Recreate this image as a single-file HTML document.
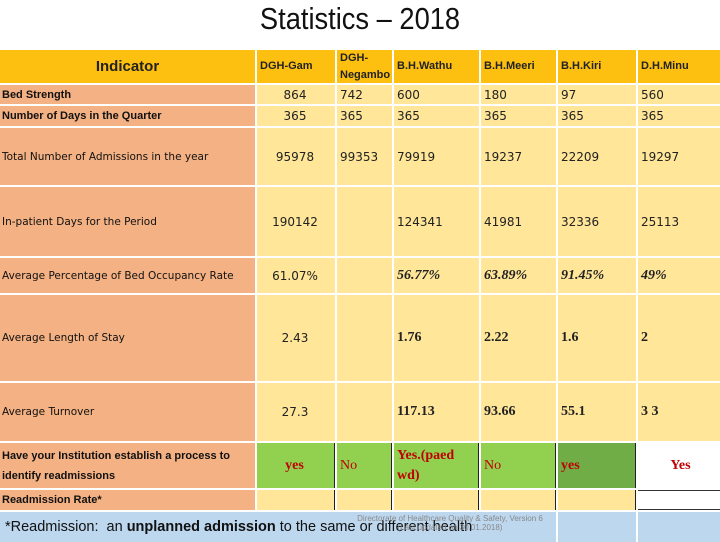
<!DOCTYPE html>
<html><head><meta charset="utf-8"><style>
body{margin:0;width:720px;height:540px;background:#fff;position:relative;overflow:hidden;font-family:"Liberation Sans",sans-serif}
.c{position:absolute;box-sizing:border-box;display:flex;align-items:center;font-size:13px;color:#222;white-space:nowrap;overflow:visible}
.h{background:#fdc010;font-weight:bold;font-size:11px}
.i{background:#f4b183;font-weight:bold;font-size:11px;padding-left:2px;color:#111}
.d{background:#ffe699;font-family:"DejaVu Sans",sans-serif;font-size:12px}
.s{font-family:"Liberation Serif",serif;font-weight:bold;font-size:14px;color:#111}
</style></head><body>
<div style="position:absolute;left:0;width:720px;top:1px;text-align:center;font-size:31px;transform:scaleX(0.88);color:#111">Statistics – 2018</div>
<div id="t"></div>
<div style="position:absolute;left:300px;top:514px;width:300px;text-align:center;font-size:8px;color:#888;line-height:9px">Directorate of Healthcare Quality &amp; Safety, Version 6<br>(Last updated on 30.01.2018)</div>
<script>
const cols=[0,257,337,394,481,558,638,720];
const rowsY=[[50,83],[85,104],[106,126],[128,185],[187,256],[258,293],[295,381],[383,441],[443,488],[490,510]];
const headers=["Indicator","DGH-Gam","DGH-<br>Negambo","B.H.Wathu","B.H.Meeri","B.H.Kiri","D.H.Minu"];
const indicators=["Bed Strength","Number of Days in the Quarter","Total Number of Admissions in the year","In-patient Days for the Period","Average Percentage of Bed Occupancy Rate","Average Length of Stay","Average Turnover","Have your Institution establish a process to<br>identify readmissions","Readmission Rate*"];
const values=[
["864","742","600","180","97","560"],
["365","365","365","365","365","365"],
["95978","99353","79919","19237","22209","19297"],
["190142","","124341","41981","32336","25113"],
["61.07%","","56.77%","63.89%","91.45%","49%"],
["2.43","","1.76","2.22","1.6","2"],
["27.3","","117.13","93.66","55.1","3 3"],
["yes","No","Yes.(paed<br>wd)","No","yes","Yes"],
["","","","","",""]];
const t=document.getElementById('t');
function cell(x0,x1,y0,y1,cls,html,style){
 const e=document.createElement('div');
 e.className='c '+cls;
 e.style.cssText=`left:${x0}px;width:${x1-x0-2}px;top:${y0}px;height:${y1-y0}px;`+(style||'');
 e.innerHTML=html;
 
 
 t.appendChild(e);return e;
}
cell(0,cols[1],rowsY[0][0],rowsY[0][1],'h',headers[0],'justify-content:center;font-size:15px;');
for(let j=1;j<7;j++){
 cell(cols[j],cols[j+1]+(j==6?2:0),rowsY[0][0],rowsY[0][1],'h',headers[j],'padding-left:3px;line-height:17px;');
}
for(let r=0;r<indicators.length;r++){
 const [y0,y1]=rowsY[r+1];
 cell(0,cols[1],y0,y1,'i',indicators[r],'line-height:20px;'+(r>=2&&r<=6?'font-weight:normal;font-family:DejaVu Sans,sans-serif;font-size:10.5px;':''));
 for(let j=0;j<6;j++){
  let v=values[r][j];let st='padding-left:3px;';let cls='d';
  if(j==0)st='justify-content:center;padding-right:2px;';
  if(r==4&&j>=2)st+='font-family:Liberation Serif,serif;font-style:italic;font-weight:bold;font-size:14px;';
  if((r==5||r==6)&&j>=2)st+='font-family:Liberation Serif,serif;font-weight:bold;font-size:14px;';
  if(r==7){cls='d s';st+='background:#92d050;color:#c00000;font-weight:'+(j==1||j==3?'normal':'bold')+';line-height:20px;';
   if(j==4)st+='background:#70ad47;';
   if(j==5)st+='background:#fff;justify-content:center;';
   if(j<5)st+='border-right:1px solid #222;';}
  if(r==8){if(j==5)st+='background:#fff;border-top:1px solid #333;border-bottom:1px solid #333;';else st+='border-right:1px solid #222;';}
  cell(cols[j+1],cols[j+2]+(j==5?2:0),y0,y1,cls,v,st);
 }
}
const fy=[512,540];
cell(0,cols[5],fy[0],fy[1]+2,'','*Readmission:&nbsp; an <b>&nbsp;unplanned admission</b>&nbsp;to the same or different health','background:#bdd7ee;font-size:14.5px;padding-left:5px;color:#111;');
cell(cols[5],cols[6],fy[0],fy[1]+2,'','','background:#bdd7ee;');
cell(cols[6],722,fy[0],fy[1]+2,'','','background:#bdd7ee;');
</script>
</body></html>
